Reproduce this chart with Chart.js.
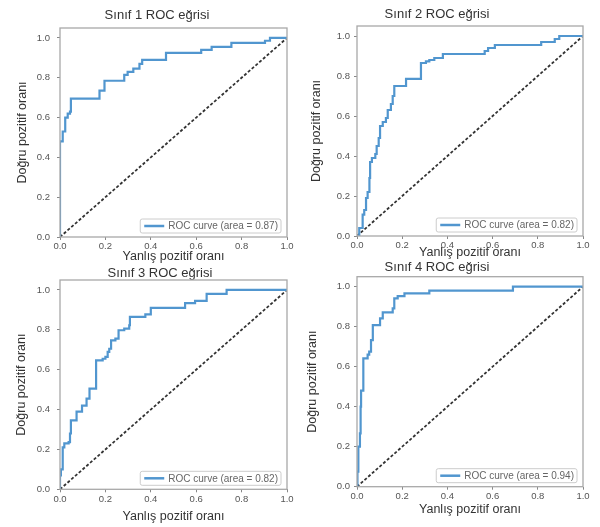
<!DOCTYPE html>
<html>
<head>
<meta charset="utf-8">
<script src="https://cdn.jsdelivr.net/npm/chart.js@4"></script>
<style>
  body { margin: 0; background: #fff; }
  #wrap { position: relative; width: 600px; height: 527px; overflow: hidden; }
  canvas { position: absolute; }
</style>
</head>
<body>
<div id="wrap"></div>
<script>
const titles = ['Sınıf 1 ROC eğrisi', 'Sınıf 2 ROC eğrisi', 'Sınıf 3 ROC eğrisi', 'Sınıf 4 ROC eğrisi'];
const areas = [0.87, 0.82, 0.82, 0.94];
const xLabel = 'Yanlış pozitif oranı';
const yLabel = 'Doğru pozitif oranı';
const tickValues = [0, 0.2, 0.4, 0.6, 0.8, 1.0];
const tickLabels = ['0.0', '0.2', '0.4', '0.6', '0.8', '1.0'];

// ROC points: x where the curve rises, y after the rise
const fpr1 = [0, 0, 0.012, 0.023, 0.034, 0.044, 0.048, 0.174, 0.196, 0.283, 0.298, 0.323, 0.35, 0.362, 0.467, 0.622, 0.668, 0.755, 0.903, 0.925, 1.0];
const tpr1 = [0, 0.48, 0.53, 0.60, 0.62, 0.63, 0.695, 0.735, 0.785, 0.815, 0.83, 0.846, 0.87, 0.89, 0.925, 0.94, 0.955, 0.975, 0.986, 1.0, 1.0];

const fpr2 = [0, 0.01, 0.025, 0.032, 0.04, 0.047, 0.055, 0.058, 0.066, 0.081, 0.087, 0.096, 0.102, 0.114, 0.128, 0.136, 0.15, 0.158, 0.165, 0.217, 0.283, 0.305, 0.32, 0.342, 0.38, 0.565, 0.58, 0.61, 0.815, 0.875, 0.895, 1.0];
const tpr2 = [0, 0.04, 0.107, 0.13, 0.19, 0.22, 0.29, 0.37, 0.39, 0.41, 0.45, 0.49, 0.55, 0.57, 0.59, 0.63, 0.66, 0.70, 0.75, 0.786, 0.865, 0.873, 0.88, 0.89, 0.91, 0.925, 0.94, 0.955, 0.97, 0.985, 1.0, 1.0];

const fpr3 = [0, 0, 0.004, 0.012, 0.019, 0.038, 0.044, 0.048, 0.073, 0.097, 0.117, 0.13, 0.159, 0.188, 0.20, 0.21, 0.217, 0.225, 0.244, 0.258, 0.283, 0.305, 0.308, 0.376, 0.40, 0.551, 0.595, 0.646, 0.734, 1.0];
const tpr3 = [0, 0.07, 0.10, 0.21, 0.23, 0.237, 0.28, 0.346, 0.39, 0.42, 0.455, 0.505, 0.647, 0.655, 0.664, 0.689, 0.705, 0.747, 0.756, 0.798, 0.806, 0.823, 0.865, 0.878, 0.91, 0.934, 0.945, 0.98, 1.0, 1.0];

const fpr4 = [0, 0.002, 0.006, 0.013, 0.016, 0.018, 0.028, 0.047, 0.054, 0.062, 0.07, 0.102, 0.114, 0.158, 0.165, 0.18, 0.21, 0.32, 0.69, 1.0];
const tpr4 = [0, 0.075, 0.2, 0.267, 0.40, 0.48, 0.642, 0.66, 0.675, 0.733, 0.808, 0.842, 0.872, 0.892, 0.942, 0.953, 0.967, 0.98, 1.0, 1.0];

const diagX = [0, 1];
const diagY = [0, 1];

const FONT = '"Liberation Sans", Arial, sans-serif';
Chart.defaults.font.family = FONT;

const rocX = [fpr1, fpr2, fpr3, fpr4];
const rocY = [tpr1, tpr2, tpr3, tpr4];

// where each panel sits on the page
const panels = [
  { left: 0,   top: 0,   w: 300, h: 266, pad: { left: 27, right: 13, top: 0, bottom: 0 }, titlePad: { top: 8.5, bottom: 6.5 }, yw: 33, yTitlePad: -11.5, yTickPad: 7, xh: 29,   xTitlePad: 2 },
  { left: 290, top: 0,   w: 310, h: 262, pad: { left: 1,  right: 17, top: 0, bottom: 0 }, titlePad: { top: 7.5, bottom: 5.5 }, yw: 66, yTitlePad: 18.5,  yTickPad: 4, xh: 26,   xTitlePad: 2 },
  { left: 0,   top: 260, w: 300, h: 267, pad: { left: 33, right: 13, top: 0, bottom: 0 }, titlePad: { top: 6.5, bottom: 0.5 }, yw: 27, yTitlePad: -18.5, yTickPad: 7, xh: 37.7, xTitlePad: 2.5 },
  { left: 290, top: 260, w: 310, h: 267, pad: { left: 1,  right: 17, top: 0, bottom: 0 }, titlePad: { top: 0.5, bottom: 3.2 }, yw: 66, yTitlePad: 14.5,  yTickPad: 4, xh: 40.3, xTitlePad: 9.5 }
];

const framePlugin = {
  id: 'frame',
  afterDatasetsDraw(chart) {
    const { ctx, chartArea: a } = chart;
    ctx.save();
    ctx.strokeStyle = '#a8a8a8';
    ctx.lineWidth = 1.3;
    ctx.strokeRect(a.left, a.top, a.right - a.left, a.bottom - a.top);
    ctx.restore();
  }
};

// matplotlib style legend in the lower right corner of the plot
const cornerLegend = {
  id: 'cornerLegend',
  afterDatasetsDraw(chart) {
    const ds = chart.data.datasets[0];
    const { ctx, chartArea: a } = chart;
    ctx.save();
    ctx.font = '10px ' + FONT;
    const tw = ctx.measureText(ds.label).width;
    const w = tw + 31, h = 14;
    const x = a.right - 6 - w, y = a.bottom - 4 - h;
    ctx.fillStyle = 'rgba(255,255,255,0.85)';
    ctx.strokeStyle = '#cccccc';
    ctx.lineWidth = 1;
    ctx.beginPath();
    ctx.roundRect(x, y, w, h, 2);
    ctx.fill();
    ctx.stroke();
    ctx.strokeStyle = ds.borderColor;
    ctx.lineWidth = 2.5;
    ctx.beginPath();
    ctx.moveTo(x + 4, y + h / 2);
    ctx.lineTo(x + 24, y + h / 2);
    ctx.stroke();
    ctx.fillStyle = '#666';
    ctx.textBaseline = 'middle';
    ctx.fillText(ds.label, x + 28, y + h / 2 + 0.5);
    ctx.restore();
  }
};

const wrap = document.getElementById('wrap');

panels.forEach((p, i) => {
  const canvas = document.createElement('canvas');
  canvas.width = p.w;
  canvas.height = p.h;
  canvas.style.left = p.left + 'px';
  canvas.style.top = p.top + 'px';
  wrap.appendChild(canvas);

  new Chart(canvas, {
    type: 'line',
    data: {
      datasets: [{
        label: 'ROC curve (area = ' + areas[i].toFixed(2) + ')',
        data: rocX[i].map((x, k) => ({ x: x, y: rocY[i][k] })),
        borderColor: '#5196cf',
        borderWidth: 2.2,
        pointRadius: 0,
        stepped: 'before',
        fill: false
      }, {
        label: 'diagonal',
        data: diagX.map((x, k) => ({ x: x, y: diagY[k] })),
        borderColor: '#333',
        borderWidth: 1.8,
        borderDash: [3, 2],
        pointRadius: 0,
        fill: false
      }]
    },
    options: {
      responsive: false,
      animation: false,
      layout: { padding: p.pad },
      plugins: {
        legend: { display: false },
        tooltip: { enabled: false },
        title: {
          display: true,
          text: titles[i],
          color: '#333',
          font: { family: FONT, size: 13, weight: 'normal', lineHeight: 1 },
          padding: p.titlePad
        }
      },
      scales: {
        x: {
          type: 'linear',
          min: 0,
          max: 1,
          afterFit: s => { s.height = p.xh; },
          afterBuildTicks: s => { s.ticks = tickValues.map(v => ({ value: v })); },
          ticks: { callback: (v, k) => tickLabels[k], color: '#555', font: { size: 9.5 }, padding: 1, maxRotation: 0, autoSkip: false },
          grid: { drawOnChartArea: false, tickLength: 3, color: '#888' },
          border: { display: false },
          title: { display: true, text: xLabel, color: '#333', font: { size: 12.5 }, padding: { top: 0, bottom: p.xTitlePad } }
        },
        y: {
          min: 0,
          max: 1.05,
          afterFit: s => { s.width = p.yw; },
          afterBuildTicks: s => { s.ticks = tickValues.map(v => ({ value: v })); },
          ticks: { callback: (v, k) => tickLabels[k], color: '#555', font: { size: 9.5 }, padding: p.yTickPad, autoSkip: false },
          grid: { drawOnChartArea: false, tickLength: 3, color: '#888' },
          border: { display: false },
          title: { display: true, text: yLabel, color: '#333', font: { size: 12.5 }, padding: { top: p.yTitlePad, bottom: 0 } }
        }
      }
    },
    plugins: [framePlugin, cornerLegend]
  });
});
</script>
</body>
</html>
